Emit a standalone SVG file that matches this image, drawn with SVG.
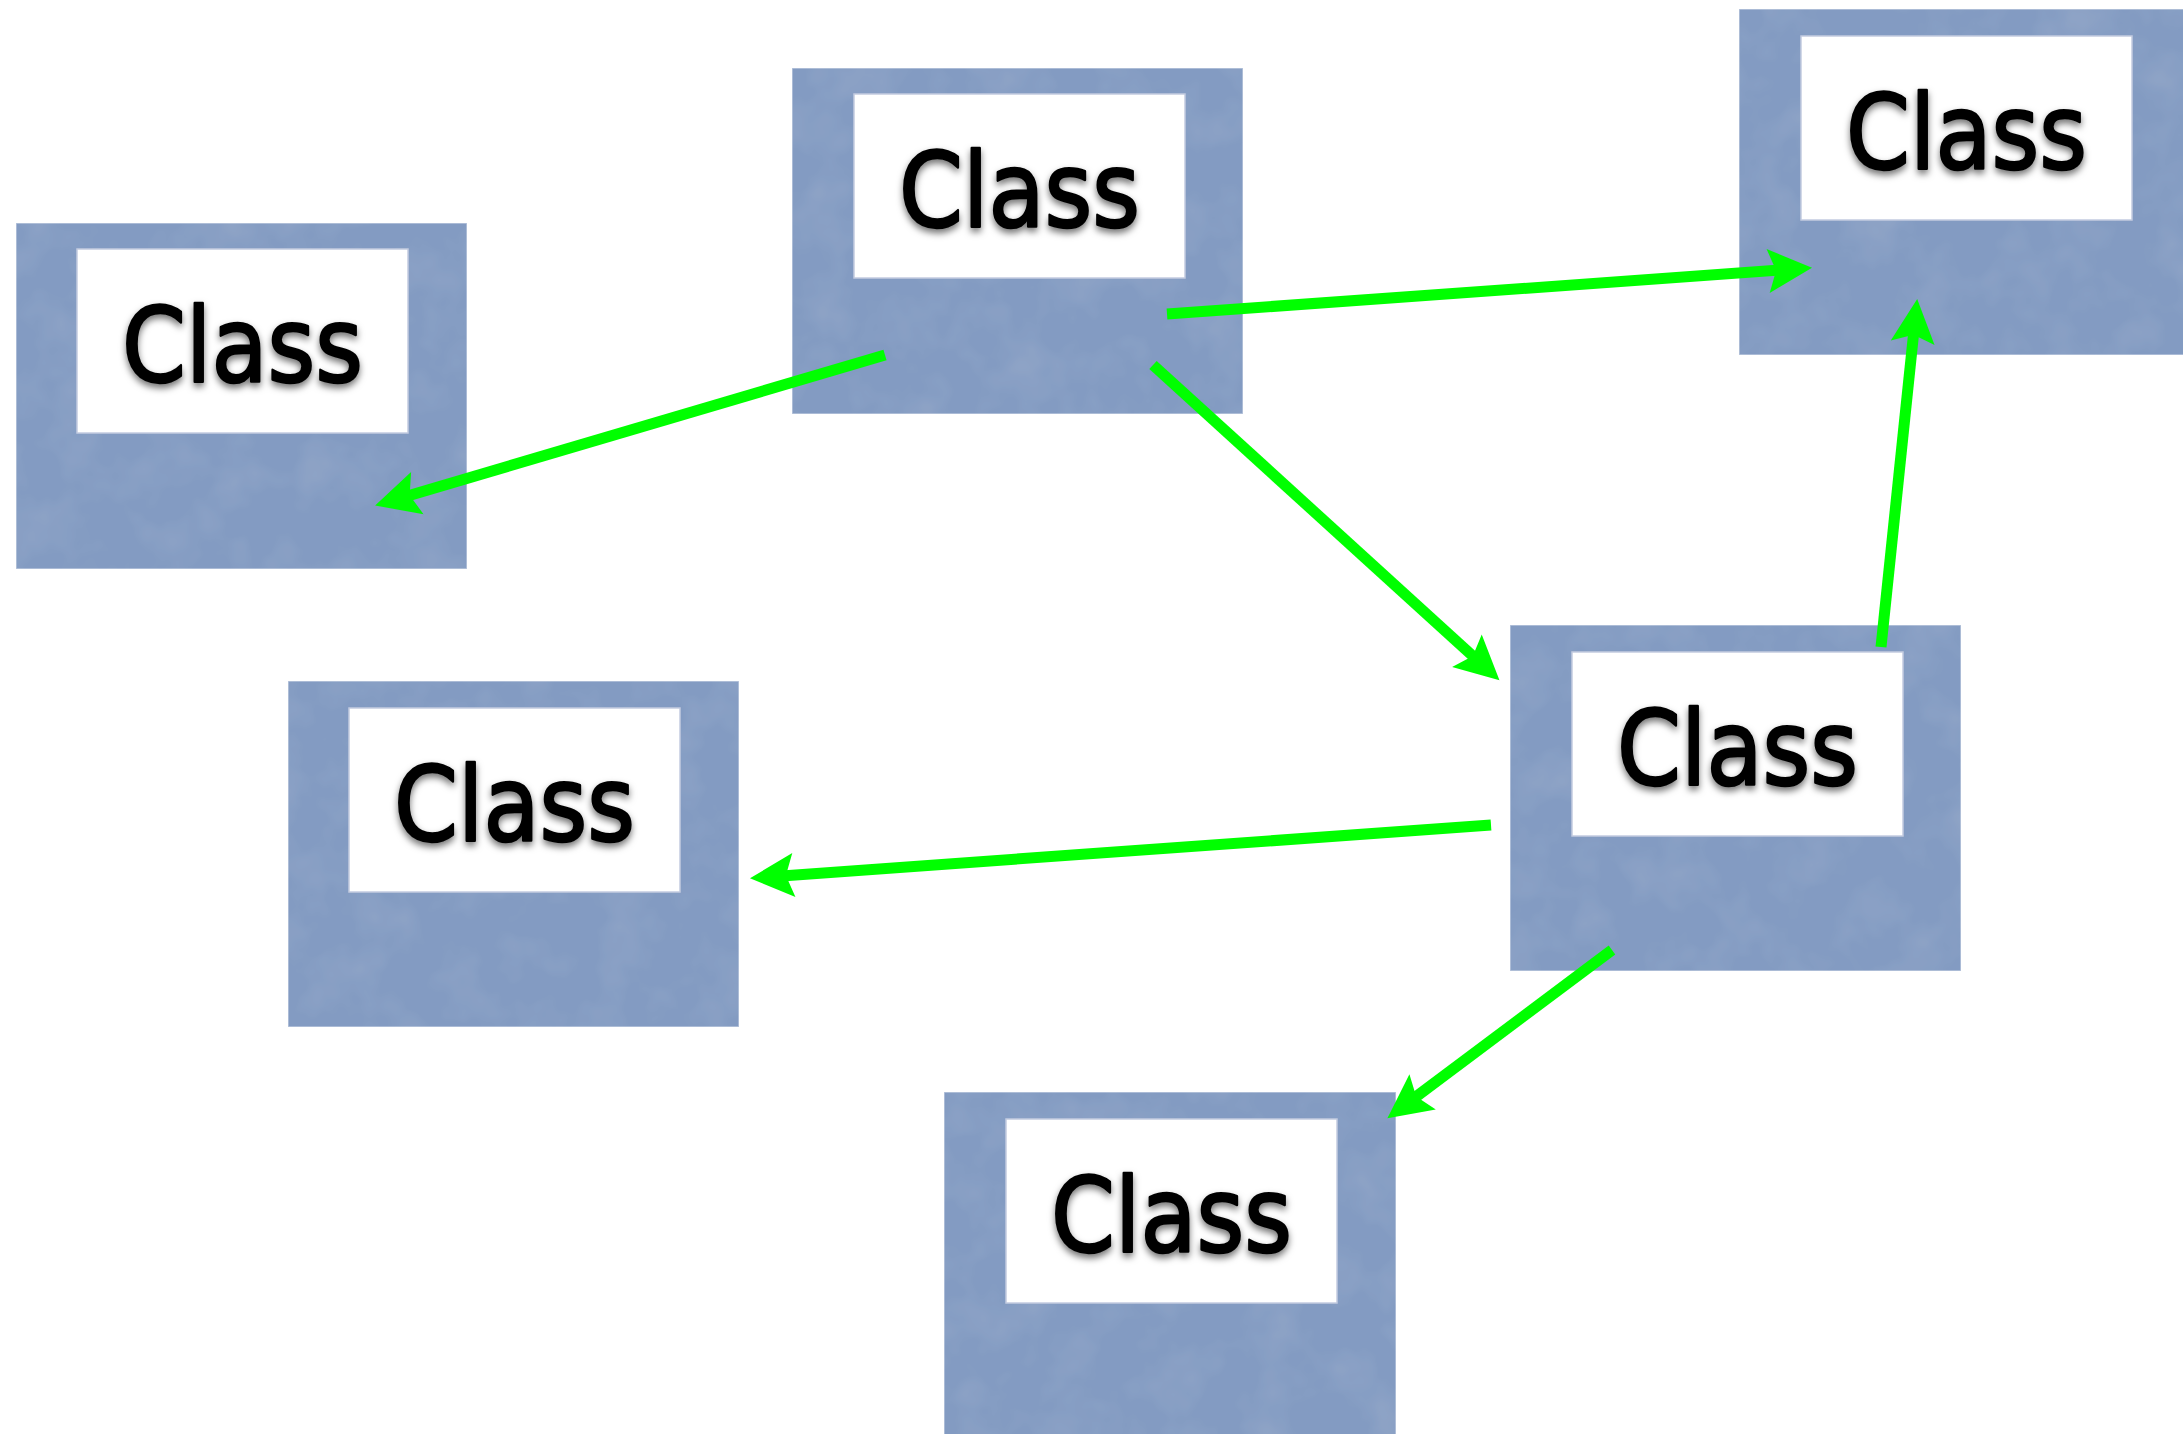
<svg xmlns="http://www.w3.org/2000/svg" width="2183" height="1434" viewBox="0 0 2183 1434">
  <style>
    .outer { fill: #839bc2; stroke: #b9c6dd; stroke-width: 1.5; }
    .inner { fill: #ffffff; stroke: #c3cbe0; stroke-width: 1.5; }
    .label { font-family: "DejaVu Sans", "Noto Sans", sans-serif; font-size: 104px; fill: #000000; stroke: #000000; stroke-width: 2.5; stroke-linejoin: round; text-anchor: middle; filter: url(#shadow); }
    .edge { fill: none; stroke: #00ff00; stroke-width: 11; stroke-linecap: butt; marker-end: url(#arrow); }
  </style>
  <defs>
    <filter id="shadow" x="-20%" y="-30%" width="140%" height="160%">
      <feDropShadow dx="0" dy="4" stdDeviation="3.5" flood-color="#000000" flood-opacity="0.55"/>
    </filter>
    <filter id="tex" x="0" y="0" width="100%" height="100%">
      <feTurbulence type="fractalNoise" baseFrequency="0.02" numOctaves="3" seed="7" result="noise"/>
      <feColorMatrix in="noise" type="matrix" values="0 0 0 0 1  0 0 0 0 1  0 0 0 0 1  0 0 0 0.12 -0.05" result="spots"/>
      <feComposite in="spots" in2="SourceGraphic" operator="in" result="clipped"/>
      <feMerge><feMergeNode in="SourceGraphic"/><feMergeNode in="clipped"/></feMerge>
    </filter>
    <marker id="arrow" markerUnits="userSpaceOnUse" markerWidth="44" markerHeight="44" viewBox="0 0 44 44" refX="12" refY="22" orient="auto" overflow="visible">
      <path d="M0,0 L44,22 L0,44 L8,22 Z" fill="#00ff00"/>
    </marker>
  </defs>
  <rect x="0" y="0" width="2183" height="1434" fill="#ffffff"/>

  <g id="node-left-top">
    <rect class="outer" x="16" y="223" width="451" height="346" filter="url(#tex)"/>
    <rect class="inner" x="77" y="249" width="331" height="184"/>
    <text class="label" x="242.5" y="382" textLength="241" lengthAdjust="spacingAndGlyphs">Class</text>
  </g>
  <g id="node-top-center">
    <rect class="outer" x="792" y="68" width="451" height="346" filter="url(#tex)"/>
    <rect class="inner" x="854" y="94" width="331" height="184"/>
    <text class="label" x="1019.5" y="227" textLength="241" lengthAdjust="spacingAndGlyphs">Class</text>
  </g>
  <g id="node-top-right">
    <rect class="outer" x="1739" y="9" width="451" height="346" filter="url(#tex)"/>
    <rect class="inner" x="1801" y="36" width="331" height="184"/>
    <text class="label" x="1966.5" y="169" textLength="241" lengthAdjust="spacingAndGlyphs">Class</text>
  </g>
  <g id="node-middle-left">
    <rect class="outer" x="288" y="681" width="451" height="346" filter="url(#tex)"/>
    <rect class="inner" x="349" y="708" width="331" height="184"/>
    <text class="label" x="514.5" y="841" textLength="241" lengthAdjust="spacingAndGlyphs">Class</text>
  </g>
  <g id="node-right-middle">
    <rect class="outer" x="1510" y="625" width="451" height="346" filter="url(#tex)"/>
    <rect class="inner" x="1572" y="652" width="331" height="184"/>
    <text class="label" x="1737.5" y="785" textLength="241" lengthAdjust="spacingAndGlyphs">Class</text>
  </g>
  <g id="node-bottom">
    <rect class="outer" x="944" y="1092" width="452" height="346" filter="url(#tex)"/>
    <rect class="inner" x="1006" y="1119" width="331" height="184"/>
    <text class="label" x="1171.5" y="1252" textLength="241" lengthAdjust="spacingAndGlyphs">Class</text>
  </g>

  <g id="connectors">
    <line class="edge" x1="885" y1="355" x2="405.8" y2="496.5"/>
    <line class="edge" x1="1167" y1="314" x2="1780.1" y2="270.1"/>
    <line class="edge" x1="1153" y1="365" x2="1475.8" y2="658.8"/>
    <line class="edge" x1="1881" y1="647" x2="1913.9" y2="330.8"/>
    <line class="edge" x1="1491" y1="825" x2="781.9" y2="875.9"/>
    <line class="edge" x1="1612" y1="950" x2="1413" y2="1099"/>
  </g>
</svg>
